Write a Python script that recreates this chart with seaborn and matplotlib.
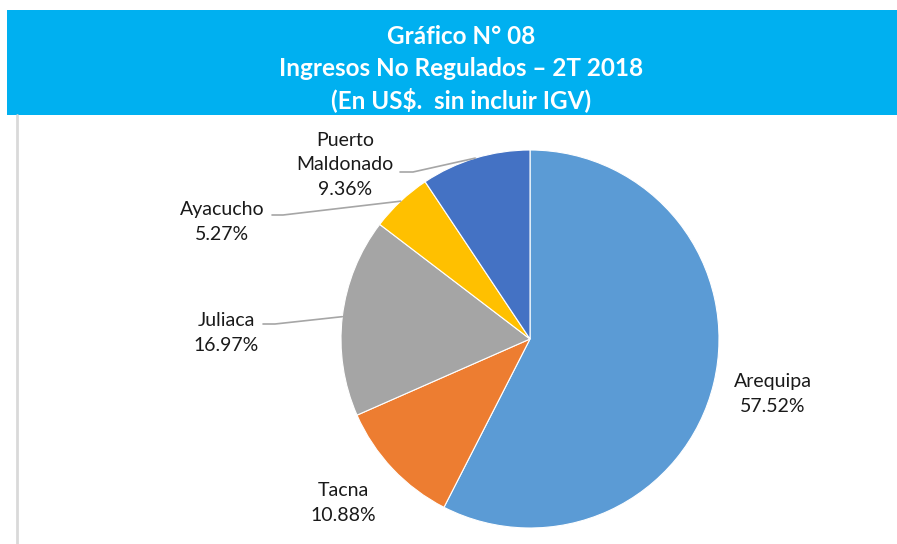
import numpy as np
import seaborn as sns
import matplotlib.pyplot as plt
from matplotlib.patches import Rectangle
from matplotlib.lines import Line2D

# data
regions = ['Arequipa', 'Tacna', 'Juliaca', 'Ayacucho', 'Puerto\nMaldonado']
shares = [57.52, 10.88, 16.97, 5.27, 9.36]
colors = ['#5B9BD5', '#ED7D31', '#A5A5A5', '#FFC000', '#4472C4']
title_lines = ['Gráfico N° 08', 'Ingresos No Regulados – 2T 2018', '(En US$.  sin incluir IGV)']

sns.set_style('white')
plt.rcParams['font.family'] = ['Lato', 'DejaVu Sans']

W, H = 897, 544
fig = plt.figure(figsize=(W / 100, H / 100), dpi=100)

# title banner
fig.patches.append(Rectangle((7 / W, 1 - 115 / H), (W - 7) / W, 105 / H,
                             transform=fig.transFigure, facecolor='#00B0F0',
                             edgecolor='none', zorder=0))
for i, line in enumerate(title_lines):
    fig.text(0.514, 1 - (37 + 31.5 * i) / H, line, ha='center', va='center',
             color='white', fontsize=17.5, fontweight='bold')

# left border of the chart area
fig.lines.append(Line2D([17 / W, 17 / W], [0, 1 - 115 / H], transform=fig.transFigure,
                        color='#D9D9D9', linewidth=2))

# pie axes: centre (530, 339) px, radius 189 px
cx, cy, r = 530, 339, 189
ax = fig.add_axes([(cx - r) / W, (H - cy - r) / H, 2 * r / W, 2 * r / H])
wedges, _ = ax.pie(shares, colors=colors, startangle=90, counterclock=False,
                   radius=1, wedgeprops=dict(edgecolor='white', linewidth=0.8))
ax.set_xlim(-1, 1)
ax.set_ylim(-1, 1)
ax.set_aspect('equal')
ax.axis('off')


def px(x, y):
    return (x - cx) / r, (cy - y) / r


# label block centres (px) and leader stub ends
label_pos = [(773, 394), (343, 503), (226, 333), (222, 222), (345, 165)]
leaders = [None, None, (263, 324, 275), (272, 215, 283), (400, 172, 413)]

for w, name, val, pos, ld in zip(wedges, regions, shares, label_pos, leaders):
    tx, ty = px(*pos)
    ax.text(tx, ty, f'{name}\n{val:.2f}%', ha='center', va='center',
            fontsize=14, color='#1a1a1a', linespacing=1.55, clip_on=False)
    if ld is not None:
        mid = np.deg2rad((w.theta1 + w.theta2) / 2)
        ex, ey = np.cos(mid), np.sin(mid)
        x0, y0 = px(ld[0], ld[1])
        x1, _ = px(ld[2], ld[1])
        ax.plot([x0, x1, ex], [y0, y0, ey], color='#A6A6A6', linewidth=1.2,
                clip_on=False)

plt.savefig('out.png', dpi=100)
